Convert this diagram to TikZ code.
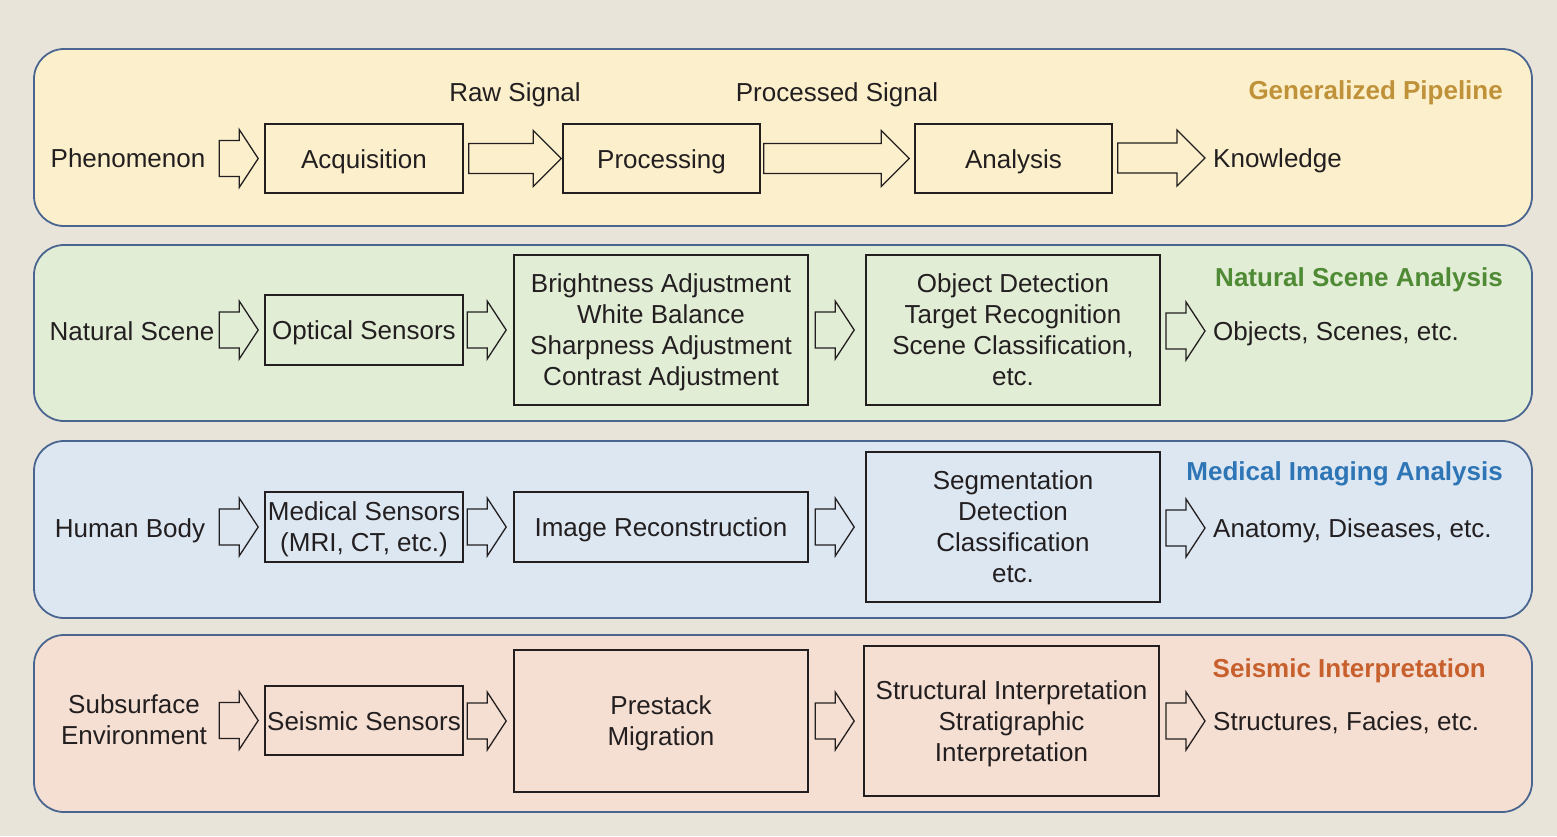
\documentclass[tikz,border=0pt]{standalone}
\usepackage{fontspec}
\setmainfont{Liberation Sans}
\usetikzlibrary{calc}
\definecolor{bgc}{HTML}{E8E4DA}
\definecolor{pyellow}{HTML}{FCF0CC}
\definecolor{pgreen}{HTML}{E2EDD6}
\definecolor{pblue}{HTML}{DCE7F2}
\definecolor{ppink}{HTML}{F5DFD2}
\definecolor{pborder}{HTML}{4A6690}
\definecolor{tgold}{HTML}{BF9139}
\definecolor{tgreen}{HTML}{4F8A35}
\definecolor{tblue}{HTML}{2E75B6}
\definecolor{torange}{HTML}{C8602E}
\definecolor{ink}{HTML}{231F20}
\tikzset{
  panel/.style={draw=pborder, line width=1.8pt, rounded corners=30pt},
  stagebox/.style={draw=ink, line width=1.6pt, inner sep=0pt, align=center, text=ink},
  oneline/.style={text height=19pt, text depth=0pt},
  multiline/.style={text depth=0pt},
  lbl/.style={inner sep=0pt, text=ink, align=center},
  ptitle/.style={inner sep=0pt, anchor=base east, font=\fontsize{26}{31}\selectfont\bfseries},
  arrowline/.style={draw=ink, line width=1.3pt, line join=miter},
}
\newcommand\blockarr[5]{%
  \draw[arrowline] let \p1=#1, \p2=#2 in
    (\x1,\y2+#3) -- (\x2-#5,\y2+#3) -- (\x2-#5,\y2+#4) -- (\x2,\y2)
    -- (\x2-#5,\y2-#4) -- (\x2-#5,\y2-#3) -- (\x1,\y2-#3) -- cycle;}
% small arrow: tip at target minus offset, length 39
\newcommand\smallarr[2]{%
  \blockarr{($#1+(-#2-39,0)$)}{($#1+(-#2,0)$)}{18pt}{29pt}{19pt}}
\begin{document}
\begin{tikzpicture}[x=1pt,y=-1pt, font=\fontsize{26}{31}\selectfont]
\fill[bgc] (0,0) rectangle (1557,836);
\useasboundingbox (0,0) rectangle (1557,836);
% panels
\draw[panel, fill=pyellow] (34,49) rectangle (1532,226);
\draw[panel, fill=pgreen] (34,245) rectangle (1532,421);
\draw[panel, fill=pblue] (34,441) rectangle (1532,618);
\draw[panel, fill=ppink] (34,635) rectangle (1532,812);
% titles
\node[ptitle, text=tgold] (t1) at (1503,99) {Generalized Pipeline};
\node[ptitle, text=tgreen] (t2) at (1503,286) {Natural Scene Analysis};
\node[ptitle, text=tblue] (t3) at (1503,480) {Medical Imaging Analysis};
\node[ptitle, text=torange] (t4) at (1486,677) {Seismic Interpretation};
% ---- row 1
\node[lbl, anchor=base] (phen) at (128,167) {Phenomenon};
\node[stagebox, oneline, minimum width=198, minimum height=69] (acq) at (364,158.5) {Acquisition};
\node[stagebox, oneline, minimum width=197, minimum height=69] (proc) at (661.5,158.5) {Processing};
\node[stagebox, oneline, minimum width=197, minimum height=69] (anal) at (1013.5,158.5) {Analysis};
\node[lbl, anchor=base west] (know) at (1213,167) {Knowledge};
\node[lbl, anchor=base] (raw) at (515,101) {Raw Signal};
\node[lbl, anchor=base] (procsig) at (837,101) {Processed Signal};
\smallarr{(acq.west)}{6}
\blockarr{($(acq.east)+(5,0)$)}{($(proc.west)+(-1,0)$)}{15pt}{28pt}{28pt}
\blockarr{($(proc.east)+(3,0)$)}{($(anal.west)+(-5,0)$)}{15pt}{28pt}{28pt}
\blockarr{($(anal.east)+(5,0)$)}{($(know.base west)+(-8,-9)$)}{15pt}{28pt}{28pt}
% ---- row 2
\node[lbl, anchor=base] (nat) at (132,340) {Natural Scene};
\node[stagebox, oneline, minimum width=198, minimum height=70] (opt) at (364,330) {Optical Sensors};
\node[stagebox, multiline, minimum width=294, minimum height=150] (bright) at (661,330)
  {Brightness Adjustment\\White Balance\\Sharpness Adjustment\\Contrast Adjustment};
\node[stagebox, multiline, minimum width=294, minimum height=150] (obj) at (1013,330)
  {Object Detection\\Target Recognition\\Scene Classification,\\etc.};
\node[lbl, anchor=base west] (objres) at (1213,340) {Objects, Scenes, etc.};
\smallarr{(opt.west)}{6}
\smallarr{(bright.west)}{7}
\smallarr{(obj.west)}{11}
\smallarr{($(objres.base west)+(0,-9)$)}{8}
% ---- row 3
\node[lbl, anchor=base] (hum) at (130,537) {Human Body};
\node[stagebox, multiline, minimum width=198, minimum height=70] (med) at (364,527) {Medical Sensors\\(MRI, CT, etc.)};
\node[stagebox, oneline, minimum width=294, minimum height=70] (recon) at (661,527) {Image Reconstruction};
\node[stagebox, multiline, minimum width=294, minimum height=150] (seg) at (1013,527)
  {Segmentation\\Detection\\Classification\\etc.};
\node[lbl, anchor=base west] (anat) at (1213,537) {Anatomy, Diseases, etc.};
\smallarr{(med.west)}{6}
\smallarr{(recon.west)}{7}
\smallarr{(seg.west)}{11}
\smallarr{($(anat.base west)+(0,-9)$)}{8}
% ---- row 4
\node[lbl, multiline] (sub) at (134,720) {Subsurface\\Environment};
\node[stagebox, oneline, minimum width=198, minimum height=69] (seis) at (364,720.5) {Seismic Sensors};
\node[stagebox, multiline, minimum width=294, minimum height=142] (pre) at (661,721) {Prestack\\Migration};
\node[stagebox, multiline, minimum width=295, minimum height=150] (struct) at (1011.5,721)
  {Structural Interpretation\\Stratigraphic\\Interpretation};
\node[lbl, anchor=base west] (structres) at (1213,730) {Structures, Facies, etc.};
\smallarr{(seis.west)}{6}
\smallarr{(pre.west)}{7}
\smallarr{(struct.west)}{9}
\smallarr{($(structres.base west)+(0,-9)$)}{8}
\end{tikzpicture}
\end{document}
